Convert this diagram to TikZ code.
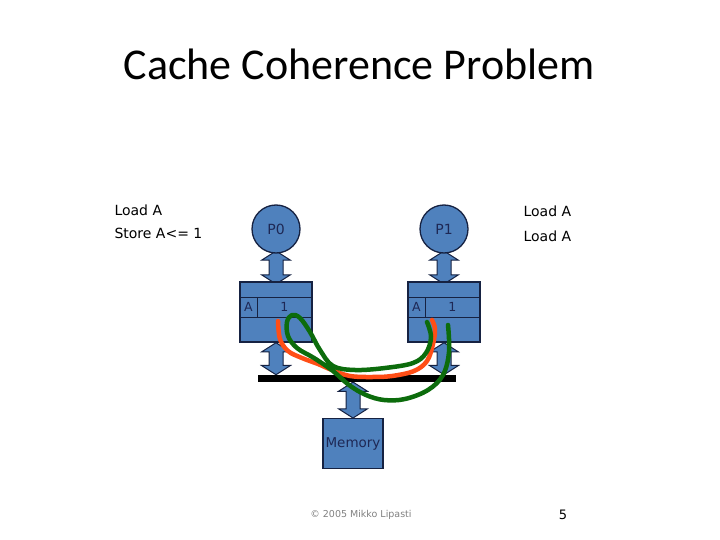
\documentclass[tikz,border=0pt]{standalone}
\usepackage{fontspec}
\setmainfont{DejaVu Sans}
\newfontfamily\titlefont{Carlito}
\usetikzlibrary{shapes.arrows, positioning, calc, backgrounds}
\definecolor{CacheBlue}{RGB}{79,129,189}
\definecolor{EdgeNavy}{RGB}{22,34,66}
\definecolor{LabelNavy}{RGB}{30,40,85}
\definecolor{ScribbleRed}{RGB}{255,78,22}
\definecolor{ScribbleGreen}{RGB}{12,108,12}
\tikzset{
  % Processori e cache
  proc/.style={circle,draw=EdgeNavy,fill=CacheBlue,line width=1.3pt,minimum size=48pt,inner sep=0,
    text=LabelNavy,font=\fontsize{14}{16}\selectfont},
  cachebox/.style={rectangle,draw=EdgeNavy,fill=CacheBlue,line width=1.3pt,minimum width=72pt,
    minimum height=60pt,inner sep=0},
  membox/.style={cachebox,minimum width=60pt,minimum height=50pt,text=LabelNavy,
    font=\fontsize{13.5}{15}\selectfont},
  cellline/.style={draw=EdgeNavy,line width=1.3pt},
  celltext/.style={text=LabelNavy,font=\fontsize{12.5}{14}\selectfont,inner sep=0},
  % Frecce a blocco
  linkarrow/.style={double arrow,draw=EdgeNavy,fill=CacheBlue,line width=1pt,inner sep=0,
    text height=13pt,text depth=0pt,double arrow head extend=7.5pt,double arrow tip angle=115,rotate=90},
  prog/.style={anchor=west,align=left},
  scribble/.style={line width=4.5pt,line cap=round,line join=round}
}

\begin{document}
\begin{tikzpicture}[x=1pt,y=-1pt]
  \useasboundingbox (0,0) rectangle (720,540);
  \node[anchor=base,font=\titlefont\fontsize{44}{50}\selectfont] (title) at (359,80) {Cache Coherence Problem};
  \node[prog,font=\fontsize{14}{23}\selectfont] (prog0) at (111,221.5) {Load A\\Store A<= 1};
  \node[prog,font=\fontsize{14}{25}\selectfont] (prog1) at (520,223.5) {Load A\\Load A};

  \node[proc] (p0) at (276,229) {P0};
  \node[proc] (p1) at (444,229) {P1};
  \node[cachebox] (c0) at (276,312) {};
  \node[cachebox] (c1) at (444,312) {};
  \node[rectangle,fill=black,minimum width=198pt,minimum height=7pt,inner sep=0] (bus) at (357,378.5) {};
  \node[membox] (mem) at (353,443.5) {Memory};

  \foreach \c in {c0,c1}{
    \draw[cellline] ($(\c.north west)+(0,16)$) -- ($(\c.north east)+(0,16)$);
    \draw[cellline] ($(\c.north west)+(0,36)$) -- ($(\c.north east)+(0,36)$);
    \draw[cellline] ($(\c.north west)+(18,16)$) -- ($(\c.north west)+(18,36)$);
    \node[celltext] at ($(\c.north west)+(9,26)$) {A};
    \node[celltext] at ($(\c.north west)+(45,26)$) {1};
  }

  \begin{scope}[on background layer]
    \foreach \p/\c in {p0/c0,p1/c1}{
      \node[linkarrow,minimum height=33pt] at ($(\p.south)!0.5!(\c.north)$) {};
      \node[linkarrow,minimum height=32pt] at ($(\c.south)!0.5!(\c.south |- bus.north)$) {};
    }
    \node[linkarrow,minimum height=36pt] at ($(mem.north)!0.5!(mem.north |- bus.south)$) {};
  \end{scope}

  % Scarabocchi
  \draw[scribble,ScribbleRed] plot[smooth,tension=0.6] coordinates {(278,321) (280,339) (288,351) (302,358)
    (318,364) (332,370) (350,376) (372,377) (392,376) (414,371) (427,361) (433,344) (435,329) (432,320)};
  \draw[scribble,ScribbleGreen] plot[smooth,tension=0.6] coordinates {(427,322) (431,337) (426,353) (413,363)
    (385,368) (355,370) (333,366) (320,350) (310,332) (300,318) (292,315) (287,322) (288,336) (297,348)
    (314,358) (333,371) (349,385) (366,395) (384,400) (405,399) (428,390) (443,375) (449,352) (448,325)};

  \node[text=gray,font=\fontsize{9.5}{11}\selectfont] (copy) at (361,515) {© 2005 Mikko Lipasti};
  \node[font=\fontsize{13}{15}\selectfont] (page) at (563,515) {5};
\end{tikzpicture}
\end{document}
